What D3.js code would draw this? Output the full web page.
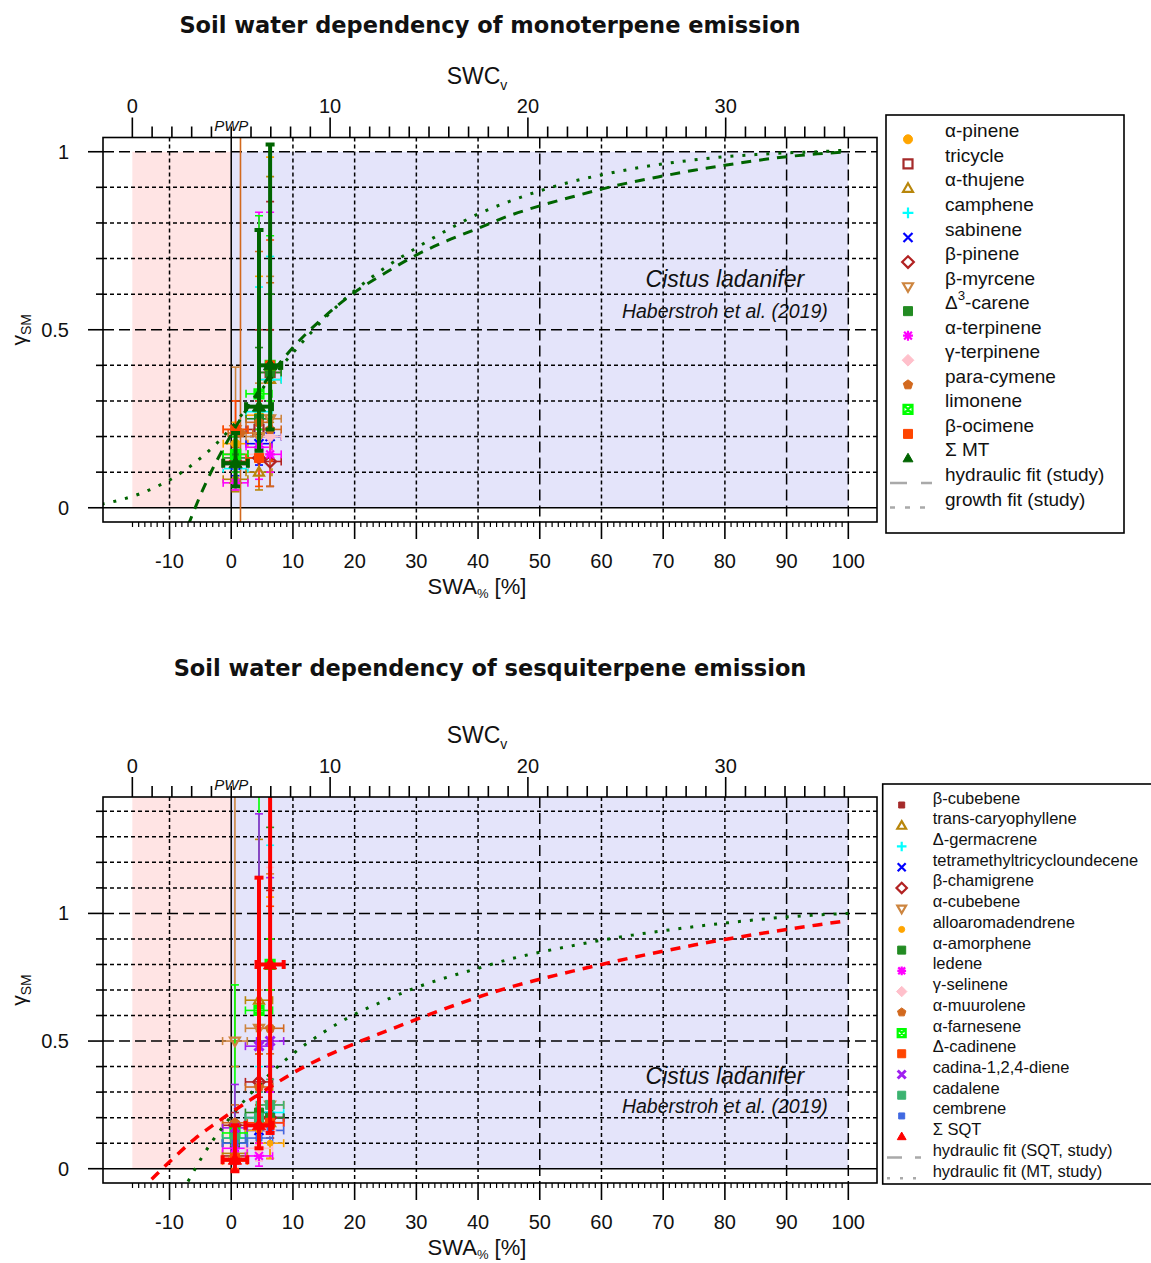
<!DOCTYPE html>
<html>
<head>
<meta charset="utf-8">
<script src="https://cdn.jsdelivr.net/npm/d3@7"></script>
<style>
  body { margin: 0; background: #fff; }
  svg text { font-family: "Liberation Sans", Arial, sans-serif; fill: #111; }
</style>
</head>
<body>
<svg id="chart" width="1151" height="1263"></svg>
<script>
// ---------------- data ----------------
const swaMajor = [-10, 0, 10, 20, 30, 40, 50, 60, 70, 80, 90, 100];
const swaDashed = [50, 90, 100];
const swcMajor = [0, 10, 20, 30];
const swcPWP = 5.0;   // SWC_v at permanent wilting point (SWA 0 %)
const swcFC = 36.2;   // SWC_v at SWA 100 %

// fitted curves: [SWA, gamma]
const mtHydraulic = [[-7, -0.05], [-5, 0.035], [-3, 0.11], [-1, 0.175], [1, 0.235], [3, 0.29], [6, 0.365],
  [10, 0.45], [15, 0.535], [20, 0.605], [25, 0.66], [30, 0.71], [35, 0.75], [40, 0.785], [45, 0.82],
  [50, 0.848], [55, 0.872], [60, 0.895], [65, 0.915], [70, 0.932], [75, 0.948], [80, 0.962], [85, 0.975],
  [90, 0.986], [95, 0.994], [100, 1.0]];
const mtGrowth = [[-21, 0.01], [-18, 0.022], [-15, 0.038], [-12, 0.06], [-9, 0.088], [-6, 0.125], [-3, 0.17],
  [0, 0.225], [3, 0.29], [6, 0.355], [10, 0.435], [15, 0.53], [20, 0.61], [25, 0.675], [30, 0.73],
  [35, 0.78], [40, 0.825], [45, 0.86], [50, 0.89], [55, 0.915], [60, 0.935], [65, 0.952], [70, 0.966],
  [75, 0.977], [80, 0.986], [85, 0.992], [90, 0.997], [95, 1.0], [100, 1.005]];
const sqtHydraulic = [[-15, -0.09], [-12, -0.02], [-9, 0.05], [-6, 0.115], [-3, 0.17], [0, 0.22], [3, 0.268],
  [6, 0.315], [10, 0.375], [15, 0.437], [20, 0.49], [25, 0.538], [30, 0.585], [35, 0.63], [40, 0.672],
  [45, 0.71], [50, 0.742], [55, 0.772], [60, 0.8], [65, 0.827], [70, 0.852], [75, 0.876], [80, 0.898],
  [85, 0.918], [90, 0.937], [95, 0.955], [100, 0.972]];

// monoterpenes: three campaigns per compound
const mtNames = ["α-pinene", "tricycle", "α-thujene", "camphene", "sabinene", "β-pinene", "β-myrcene",
  "Δ3-carene", "α-terpinene", "γ-terpinene", "para-cymene", "limonene", "β-ocimene", "Σ MT"];
const mtX = [[0.7, 4.5, 6.3], [0.7, 4.5, 6.3], [0.7, 4.5, 6.3], [0.7, 4.5, 6.3], [0.7, 4.5, 6.3],
  [0.7, 4.5, 6.3], [0.7, 4.5, 6.3], [0.7, 4.5, 6.3], [0.7, 4.5, 6.3], [0.7, 4.5, 6.3],
  [1.5, 4.5, 6.3], [0.7, 4.5, 6.3], [0.7, 4.5, 6.3], [0.7, 4.5, 6.3]];
const mtXerr = [2.0, 2.1, 1.8];
const mtMean = [[0.18, 0.26, 0.40], [0.15, 0.22, 0.38], [0.08, 0.10, 0.36], [0.11, 0.27, 0.36],
  [0.12, 0.18, 0.20], [0.13, 0.14, 0.13], [0.22, 0.20, 0.25], [0.14, 0.25, 0.38], [0.07, 0.17, 0.15],
  [0.12, 0.15, 0.20], [0.21, 0.24, 0.22], [0.15, 0.32, 0.40], [0.22, 0.14, 0.40], [0.125, 0.284, 0.40]];
const mtLow = [[0.12, 0.20, 0.26], [0.10, 0.15, 0.20], [0.045, 0.05, 0.24], [0.07, 0.25, 0.26],
  [0.09, 0.12, 0.15], [0.10, 0.10, 0.06], [0.05, 0.10, 0.20], [0.10, 0.15, 0.30], [0.05, 0.08, 0.10],
  [0.08, 0.10, 0.15], [-0.2, 0.13, 0.06], [0.10, 0.22, 0.30], [0.18, 0.06, 0.19], [0.06, 0.16, 0.22]];
const mtHigh = [[0.24, 0.65, 0.985], [0.20, 0.50, 0.86], [0.12, 0.20, 0.93], [0.15, 0.62, 0.706],
  [0.15, 0.30, 0.40], [0.17, 0.18, 0.50], [0.395, 0.35, 0.65], [0.18, 0.45, 0.60], [0.10, 0.83, 0.83],
  [0.16, 0.20, 0.30], [1.3, 0.72, 0.632], [0.20, 0.82, 0.764], [0.30, 0.30, 0.752], [0.21, 0.78, 1.02]];

// sesquiterpenes
const sqtNames = ["β-cubebene", "trans-caryophyllene", "Δ-germacrene", "tetramethyltricycloundecene",
  "β-chamigrene", "α-cubebene", "alloaromadendrene", "α-amorphene", "ledene", "γ-selinene",
  "α-muurolene", "α-farnesene", "Δ-cadinene", "cadina-1,2,4-diene", "cadalene", "cembrene", "Σ SQT"];
const sqtX = [0.6, 4.5, 6.3];
const sqtXerr = [2.0, 2.2, 2.2];
const sqtMean = [[0.05, 0.20, 0.20], [0.06, 0.66, 0.18], [0.12, 0.20, 0.22], [0.10, 0.15, 0.20],
  [0.17, 0.34, 0.20], [0.50, 0.55, 0.25], [0.03, 0.15, 0.10], [0.10, 0.22, 0.20], [0.08, 0.05, 0.18],
  [0.04, 0.08, 0.15], [0.18, 0.32, 0.55], [0.14, 0.62, 0.80], [0.04, 0.18, 0.18], [0.16, 0.48, 0.50],
  [0.12, 0.20, 0.25], [0.10, 0.12, 0.15], [0.035, 0.17, 0.80]];
const sqtLow = [[0.02, 0.10, 0.12], [0.02, 0.55, 0.04], [0.08, 0.12, 0.15], [0.07, 0.10, 0.15],
  [0.12, 0.28, 0.15], [0.40, 0.45, 0.20], [0.0, 0.10, 0.04], [0.06, 0.15, 0.15], [0.05, 0.01, 0.10],
  [0.0, 0.03, 0.10], [0.12, 0.25, 0.45], [0.08, 0.50, 0.70], [0.0, 0.12, 0.12], [0.10, 0.30, 0.40],
  [0.08, 0.15, 0.20], [0.05, 0.08, 0.10], [-0.01, 0.08, 0.14]];
const sqtHigh = [[0.10, 0.35, 0.50], [0.12, 1.29, 0.30], [0.18, 0.40, 1.267], [0.14, 0.25, 0.30],
  [0.22, 0.45, 1.09], [1.6, 0.70, 1.155], [0.06, 0.30, 1.064], [0.15, 0.30, 1.337], [0.12, 0.10, 0.30],
  [0.10, 0.15, 1.18], [0.25, 0.45, 0.70], [0.72, 1.6, 0.90], [0.10, 0.25, 1.028], [0.33, 1.39, 1.14],
  [0.18, 0.30, 0.35], [0.15, 0.20, 0.25], [0.17, 1.14, 1.6]];

// ---------------- styles ----------------
const mtStyle = [
  {c: "#FFA500", s: "circle", f: true}, {c: "#A52A2A", s: "square", f: false},
  {c: "#B8860B", s: "triangle", f: false}, {c: "#00FFFF", s: "plus"}, {c: "#0000FF", s: "x"},
  {c: "#B22222", s: "diamond", f: false}, {c: "#CD853F", s: "itriangle", f: false},
  {c: "#228B22", s: "square", f: true}, {c: "#FF00FF", s: "asterisk"}, {c: "#FFC0CB", s: "diamond", f: true},
  {c: "#D2691E", s: "pentagon", f: true}, {c: "#00FF00", s: "boxx"}, {c: "#FF4500", s: "square", f: true},
  {c: "#006400", s: "triangle", f: true}
];
const sqtStyle = [
  {c: "#A52A2A", s: "square", f: true, r: 3}, {c: "#B8860B", s: "triangle", f: false},
  {c: "#00FFFF", s: "plus"}, {c: "#0000FF", s: "x"}, {c: "#B22222", s: "diamond", f: false},
  {c: "#CD853F", s: "itriangle", f: false}, {c: "#FFA500", s: "circle", f: true, r: 3},
  {c: "#228B22", s: "square", f: true}, {c: "#FF00FF", s: "asterisk"}, {c: "#FFC0CB", s: "diamond", f: true},
  {c: "#D2691E", s: "pentagon", f: true}, {c: "#00FF00", s: "boxx"}, {c: "#FF4500", s: "square", f: true},
  {c: "#A020F0", s: "x", w: 3}, {c: "#3CB371", s: "square", f: true}, {c: "#4169E1", s: "square", f: true, r: 3},
  {c: "#FF0000", s: "triangle", f: true}
];

const svg = d3.select("#chart");
const boxL = 103, boxR = 877;
const x = d3.scaleLinear().domain([-20.78, 104.65]).range([boxL, boxR]);
const xSwc = d3.scaleLinear().domain([swcPWP, swcFC]).range([x(0), x(100)]);

function symPath(s, r) {
  const k = 0.866;
  switch (s) {
    case "circle": return d3.symbol(d3.symbolCircle, Math.PI * r * r)();
    case "square": case "boxx":
      return `M${-r},${-r}H${r}V${r}H${-r}Z` + (s === "boxx" ? `M${-r},${-r}L${r},${r}M${-r},${r}L${r},${-r}` : "");
    case "triangle": return `M0,${-r * 1.15}L${r * 1.1},${r * 0.75}L${-r * 1.1},${r * 0.75}Z`;
    case "itriangle": return `M0,${r * 1.15}L${r * 1.1},${-r * 0.75}L${-r * 1.1},${-r * 0.75}Z`;
    case "plus": return `M${-r * 1.2},0H${r * 1.2}M0,${-r * 1.2}V${r * 1.2}`;
    case "x": return `M${-r},${-r}L${r},${r}M${-r},${r}L${r},${-r}`;
    case "asterisk": return `M${-r * 1.1},0H${r * 1.1}M0,${-r * 1.1}V${r * 1.1}M${-r * k},${-r * k}L${r * k},${r * k}M${-r * k},${r * k}L${r * k},${-r * k}`;
    case "diamond": return `M0,${-r * 1.3}L${r * 1.3},0L0,${r * 1.3}L${-r * 1.3},0Z`;
    case "pentagon": {
      const pts = d3.range(5).map(i => {
        const a = -Math.PI / 2 + i * 2 * Math.PI / 5;
        return [r * 1.1 * Math.cos(a), r * 1.1 * Math.sin(a)];
      });
      return "M" + pts.join("L") + "Z";
    }
  }
}

function drawSymbol(g, st, cx, cy, r) {
  const rr = st.r || r;
  const filled = st.f === true;
  g.append("path")
    .attr("d", symPath(st.s, rr))
    .attr("transform", `translate(${cx},${cy})`)
    .attr("fill", filled ? st.c : "none")
    .attr("stroke", st.c)
    .attr("stroke-width", filled ? 1 : (st.w || 2.2));
}

function errorBars(g, xs, ys, xe, lo, hi, color, w, cap) {
  xs.forEach((xv, i) => {
    const px = x(xv), py = g.yScale(ys[i]);
    const y1 = g.yScale(lo[i]), y2 = g.yScale(hi[i]);
    const x1 = x(xv - xe[i]), x2 = x(xv + xe[i]);
    const segs = [
      [px, y1, px, y2], [px - cap, y1, px + cap, y1], [px - cap, y2, px + cap, y2],
      [x1, py, x2, py], [x1, py - cap, x1, py + cap], [x2, py - cap, x2, py + cap]
    ];
    segs.forEach(s => g.append("line")
      .attr("x1", s[0]).attr("y1", s[1]).attr("x2", s[2]).attr("y2", s[3])
      .attr("stroke", color).attr("stroke-width", w));
  });
}

function drawPanel(P) {
  const y = d3.scaleLinear().domain(P.yDomain).range([P.boxB, P.boxT]);
  const root = svg.append("g");

  // title
  root.append("text").attr("x", 490).attr("y", P.titleY).attr("text-anchor", "middle")
    .style("font-family", "'DejaVu Sans', sans-serif").style("font-weight", "bold").style("font-size", "22.5px")
    .text(P.title);

  const clipId = "clip" + P.id;
  root.append("clipPath").attr("id", clipId).append("rect")
    .attr("x", boxL).attr("y", P.boxT).attr("width", boxR - boxL).attr("height", P.boxB - P.boxT);

  const plot = root.append("g").attr("clip-path", `url(#${clipId})`);
  plot.yScale = y;

  // dry (below PWP) and wet regions
  plot.append("rect").attr("x", xSwc(0)).attr("width", x(0) - xSwc(0))
    .attr("y", y(P.regionTop)).attr("height", y(0) - y(P.regionTop)).attr("fill", "#FFE4E4");
  plot.append("rect").attr("x", x(0)).attr("width", x(100) - x(0))
    .attr("y", y(P.regionTop)).attr("height", y(0) - y(P.regionTop)).attr("fill", "#E4E4FA");

  // grid
  const hGrid = d3.range(1, Math.round(P.yMax * 10) + 1).map(d => d / 10);
  hGrid.forEach(v => {
    const dashed = Math.abs(v - 0.5) < 1e-6 || Math.abs(v - 1) < 1e-6;
    plot.append("line").attr("x1", boxL).attr("x2", boxR).attr("y1", y(v)).attr("y2", y(v))
      .attr("stroke", "#000").attr("stroke-width", 1.5).attr("stroke-dasharray", dashed ? "11,5" : "4,3");
  });
  swaMajor.filter(v => v !== 0).forEach(v => {
    plot.append("line").attr("x1", x(v)).attr("x2", x(v)).attr("y1", P.boxT).attr("y2", P.boxB)
      .attr("stroke", "#000").attr("stroke-width", 1.5)
      .attr("stroke-dasharray", swaDashed.includes(v) ? "11,5" : "4,3");
  });
  plot.append("line").attr("x1", boxL).attr("x2", boxR).attr("y1", y(0)).attr("y2", y(0))
    .attr("stroke", "#000").attr("stroke-width", 1.5);
  plot.append("line").attr("x1", x(0)).attr("x2", x(0)).attr("y1", P.boxT).attr("y2", P.boxB)
    .attr("stroke", "#000").attr("stroke-width", 1.5);

  // species error bars and symbols
  const nSp = P.names.length - 1;
  for (let i = 0; i < nSp; i++) {
    const xs = Array.isArray(P.xs[0]) ? P.xs[i] : P.xs;
    errorBars(plot, xs, P.mean[i], P.xerr, P.low[i], P.high[i], P.style[i].c, 1.6, 4);
  }
  for (let i = 0; i < nSp; i++) {
    const xs = Array.isArray(P.xs[0]) ? P.xs[i] : P.xs;
    xs.forEach((xv, j) => drawSymbol(plot, P.style[i], x(xv), y(P.mean[i][j]), 4.5));
  }

  // fitted curves
  const line = d3.line().x(d => x(d[0])).y(d => y(d[1])).curve(d3.curveMonotoneX);
  P.curves.forEach(cv => {
    plot.append("path").attr("d", line(cv.data)).attr("fill", "none")
      .attr("stroke", cv.color).attr("stroke-width", cv.w).attr("stroke-dasharray", cv.dash);
  });

  // sum of compounds on top
  const si = nSp;
  const sxs = Array.isArray(P.xs[0]) ? P.xs[si] : P.xs;
  errorBars(plot, sxs, P.mean[si], P.xerr, P.low[si], P.high[si], P.style[si].c, 4, 4.5);
  sxs.forEach((xv, j) => drawSymbol(plot, P.style[si], x(xv), y(P.mean[si][j]), 6));

  // box
  root.append("rect").attr("x", boxL).attr("y", P.boxT).attr("width", boxR - boxL).attr("height", P.boxB - P.boxT)
    .attr("fill", "none").attr("stroke", "#000").attr("stroke-width", 1.6);

  // bottom axis (SWA)
  d3.range(-16, 101).forEach(v => {
    const major = v % 10 === 0 && v >= -10;
    root.append("line").attr("x1", x(v)).attr("x2", x(v)).attr("y1", P.boxB).attr("y2", P.boxB + (major ? 17 : 5))
      .attr("stroke", "#000").attr("stroke-width", major ? 1.6 : 1.2);
  });
  swaMajor.forEach(v => root.append("text").attr("x", x(v)).attr("y", P.boxB + 46).attr("text-anchor", "middle")
    .style("font-size", "20px").text(v));
  const xl = root.append("text").attr("x", 477).attr("y", P.boxB + 72).attr("text-anchor", "middle").style("font-size", "22px");
  xl.append("tspan").text("SWA");
  xl.append("tspan").attr("dy", 4).style("font-size", "13px").text("%");
  xl.append("tspan").attr("dy", -4).text(" [%]");

  // top axis (SWC_v)
  d3.range(0, 37).forEach(v => {
    const major = v % 10 === 0;
    root.append("line").attr("x1", xSwc(v)).attr("x2", xSwc(v)).attr("y1", P.boxT).attr("y2", P.boxT - (major ? 20 : 11))
      .attr("stroke", "#000").attr("stroke-width", 1.6);
  });
  swcMajor.forEach(v => root.append("text").attr("x", xSwc(v)).attr("y", P.boxT - 24.5).attr("text-anchor", "middle")
    .style("font-size", "20px").text(v));
  const tl = root.append("text").attr("x", 477).attr("y", P.boxT - 54).attr("text-anchor", "middle").style("font-size", "23px");
  tl.append("tspan").text("SWC");
  tl.append("tspan").attr("dy", 6).style("font-size", "14px").text("v");
  root.append("text").attr("x", x(0)).attr("y", P.boxT - 7).attr("text-anchor", "middle")
    .style("font-size", "15px").style("font-style", "italic").text("PWP");

  // left axis
  const minorY = d3.range(0, Math.round(P.yMax * 10) + 1).map(d => d / 10);
  minorY.forEach(v => {
    const major = [0, 0.5, 1].some(m => Math.abs(m - v) < 1e-6);
    root.append("line").attr("x1", boxL).attr("x2", boxL - (major ? 15 : 7)).attr("y1", y(v)).attr("y2", y(v))
      .attr("stroke", "#000").attr("stroke-width", 1.6);
  });
  [0, 0.5, 1].forEach(v => root.append("text").attr("x", 69).attr("y", y(v) + 7).attr("text-anchor", "end")
    .style("font-size", "20px").text(v));
  const yc = (P.boxT + P.boxB) / 2;
  const yl = root.append("text").attr("transform", `translate(26,${yc}) rotate(-90)`).attr("text-anchor", "middle")
    .style("font-size", "21px");
  yl.append("tspan").text("γ");
  yl.append("tspan").attr("dy", 5).style("font-size", "14px").text("SM");

  // species annotation
  root.append("text").attr("x", x(80)).attr("y", y(P.annY[0])).attr("text-anchor", "middle")
    .style("font-size", "23px").style("font-style", "italic").text("Cistus ladanifer");
  root.append("text").attr("x", x(80)).attr("y", y(P.annY[1])).attr("text-anchor", "middle")
    .style("font-size", "19.5px").style("font-style", "italic").text("Haberstroh et al. (2019)");

  // legend
  const L = P.legend;
  root.append("rect").attr("x", L.x).attr("y", L.y).attr("width", L.w).attr("height", L.h)
    .attr("fill", "#fff").attr("stroke", "#000").attr("stroke-width", 1.6);
  P.names.forEach((nm, i) => {
    const sy = L.sym0 + i * L.step;
    drawSymbol(root, P.style[i], L.symX, sy, L.r);
    const t = root.append("text").attr("x", L.textX).attr("y", sy + L.textDy).style("font-size", L.fs + "px");
    if (nm === "Δ3-carene") {
      t.append("tspan").text("Δ");
      t.append("tspan").attr("dy", -9).style("font-size", (L.fs * 0.7) + "px").text("3");
      t.append("tspan").attr("dy", 9).text("-carene");
    } else t.text(nm);
  });
  L.lines.forEach((ln, k) => {
    const sy = L.sym0 + (P.names.length + k) * L.step;
    root.append("line").attr("x1", L.lineX[0]).attr("x2", L.lineX[1]).attr("y1", sy).attr("y2", sy)
      .attr("stroke", "#A9A9A9").attr("stroke-width", 2.5).attr("stroke-dasharray", ln.dash);
    root.append("text").attr("x", L.textX).attr("y", sy + L.textDy).style("font-size", L.fs + "px").text(ln.label);
  });
}

drawPanel({
  id: "mt", title: "Soil water dependency of monoterpene emission", titleY: 33,
  boxT: 137.5, boxB: 522, yDomain: [-0.04, 1.04], yMax: 1, regionTop: 1,
  names: mtNames, style: mtStyle, xs: mtX, xerr: mtXerr, mean: mtMean, low: mtLow, high: mtHigh,
  curves: [
    {data: mtGrowth, color: "#006400", w: 3, dash: "3,9"},
    {data: mtHydraulic, color: "#006400", w: 3, dash: "10,8"}
  ],
  annY: [0.62, 0.533],
  legend: {x: 886, y: 115, w: 238, h: 418, symX: 908, textX: 945, sym0: 139.3, step: 24.55, textDy: -2,
    fs: 19, r: 4.5, lineX: [890, 932],
    lines: [{label: "hydraulic fit (study)", dash: "17,14"}, {label: "growth fit (study)", dash: "5,10"}]}
});

drawPanel({
  id: "sqt", title: "Soil water dependency of sesquiterpene emission", titleY: 676,
  boxT: 797, boxB: 1183, yDomain: [-0.056, 1.456], yMax: 1.4, regionTop: 1.5,
  names: sqtNames, style: sqtStyle, xs: sqtX, xerr: sqtXerr, mean: sqtMean, low: sqtLow, high: sqtHigh,
  curves: [
    {data: mtHydraulic, color: "#006400", w: 3, dash: "3,9"},
    {data: sqtHydraulic, color: "#FF0000", w: 3.5, dash: "10,8"}
  ],
  annY: [0.333, 0.22],
  legend: {x: 882.7, y: 784, w: 290, h: 400, symX: 901.7, textX: 932.7, sym0: 805, step: 20.73, textDy: -1.5,
    fs: 16.5, r: 4, lineX: [887, 921],
    lines: [{label: "hydraulic fit (SQT, study)", dash: "15,13"}, {label: "hydraulic fit (MT, study)", dash: "3,10"}]}
});
</script>
</body>
</html>
